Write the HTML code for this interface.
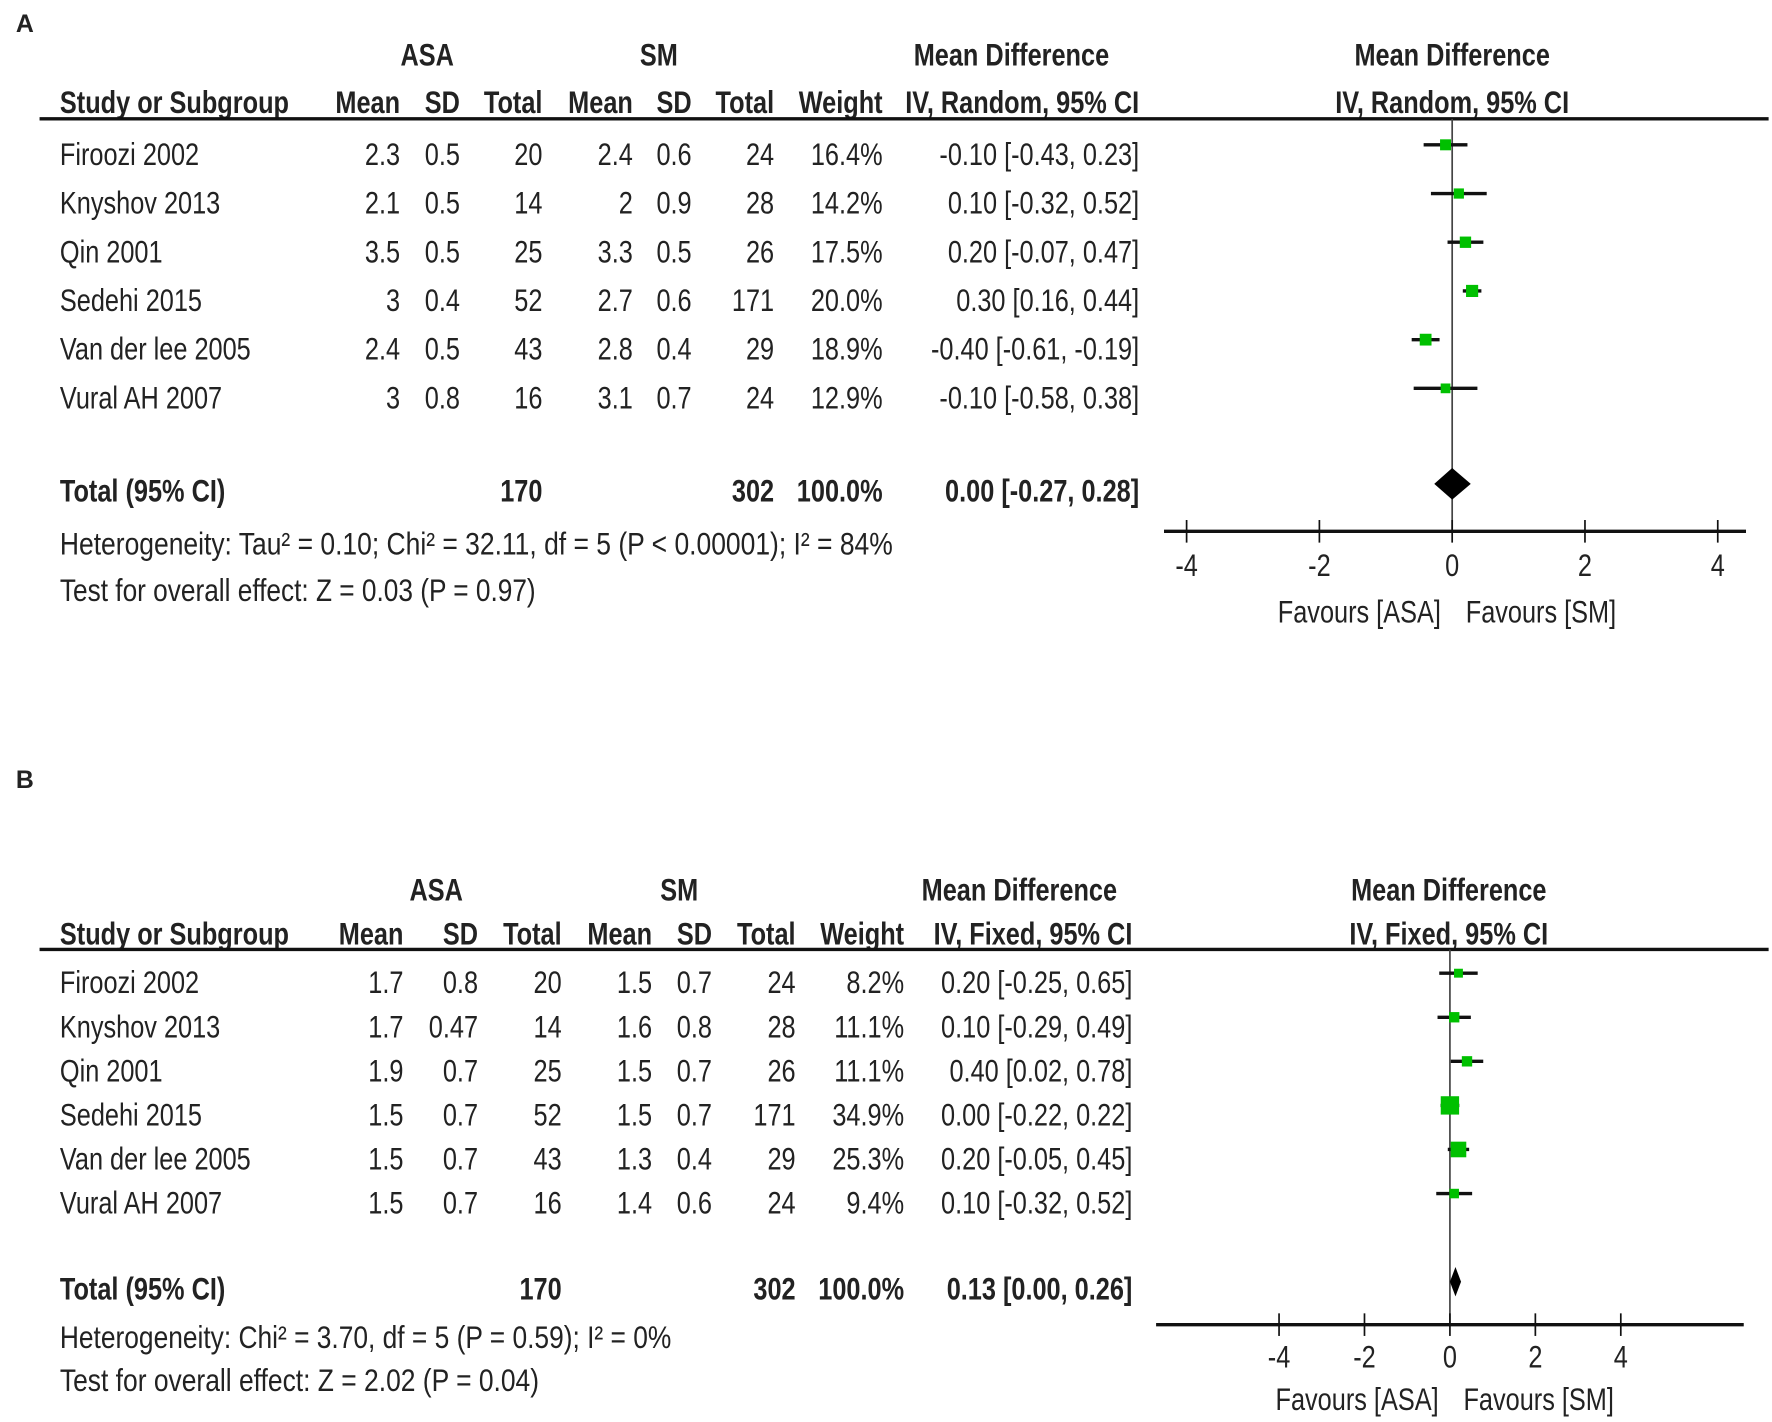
<!DOCTYPE html>
<html><head><meta charset="utf-8"><style>
html,body{margin:0;padding:0;background:#fff;}
svg{display:block;}
text{font-family:"Liberation Sans Narrow","Liberation Sans",sans-serif;font-size:28px;fill:#222;}
.b{font-weight:bold;}
</style></head><body>
<svg id="fig" width="1772" height="1422" viewBox="0 0 1568 1258" xmlns="http://www.w3.org/2000/svg">
<rect x="0" y="0" width="1568" height="1258" fill="#fff"/>
</svg>
<script>
// ---- Panel A data ----
const studiesA = ["Firoozi 2002","Knyshov 2013","Qin 2001","Sedehi 2015","Van der lee 2005","Vural AH 2007"];
const asaMeanA = ["2.3","2.1","3.5","3","2.4","3"];
const asaSdA = ["0.5","0.5","0.5","0.4","0.5","0.8"];
const asaNA = ["20","14","25","52","43","16"];
const smMeanA = ["2.4","2","3.3","2.7","2.8","3.1"];
const smSdA = ["0.6","0.9","0.5","0.6","0.4","0.7"];
const smNA = ["24","28","26","171","29","24"];
const weightA = [16.4,14.2,17.5,20.0,18.9,12.9];
const mdA = [-0.10,0.10,0.20,0.30,-0.40,-0.10];
const loA = [-0.43,-0.32,-0.07,0.16,-0.61,-0.58];
const hiA = [0.23,0.52,0.47,0.44,-0.19,0.38];
const totalA = [0.00,-0.27,0.28];
const ticksA = [-4,-2,0,2,4];
// ---- Panel B data ----
const studiesB = ["Firoozi 2002","Knyshov 2013","Qin 2001","Sedehi 2015","Van der lee 2005","Vural AH 2007"];
const asaMeanB = ["1.7","1.7","1.9","1.5","1.5","1.5"];
const asaSdB = ["0.8","0.47","0.7","0.7","0.7","0.7"];
const asaNB = ["20","14","25","52","43","16"];
const smMeanB = ["1.5","1.6","1.5","1.5","1.3","1.4"];
const smSdB = ["0.7","0.8","0.7","0.7","0.4","0.6"];
const smNB = ["24","28","26","171","29","24"];
const weightB = [8.2,11.1,11.1,34.9,25.3,9.4];
const mdB = [0.20,0.10,0.40,0.00,0.20,0.10];
const loB = [-0.25,-0.29,0.02,-0.22,-0.05,-0.32];
const hiB = [0.65,0.49,0.78,0.22,0.45,0.52];
const totalB = [0.13,0.00,0.26];
const ticksB = [-4,-2,0,2,4];

const NS="http://www.w3.org/2000/svg";
const svg=document.getElementById('fig');
const SQ=0.8;
function mk(tag,attrs,txt){const e=document.createElementNS(NS,tag);for(const k in attrs)e.setAttribute(k,attrs[k]);if(txt!==undefined)e.textContent=txt;svg.appendChild(e);return e;}
function T(x,y,s,anchor,bold,name,fixedW){const e=mk('text',{x:x,y:y,'text-anchor':anchor||'start','dominant-baseline':'central'},s);if(bold)e.setAttribute('class','b');


let w=fixedW;
if(!w){try{w=e.getComputedTextLength()*SQ;}catch(err){w=0;}}
if(w>0){e.setAttribute('textLength',w);e.setAttribute('lengthAdjust','spacingAndGlyphs');}
return e;}
function f2(v){return v.toFixed(2);}

function panel(P){
  const L=T(14,P.labelY,P.label,'start',true,'panel-label');
  L.style.fontFamily='"Liberation Sans",sans-serif';L.style.fontSize='22px';L.removeAttribute('textLength');
  T(P.cAsa,P.h1,'ASA','middle',true,'asa-group-header');
  T(P.cSm,P.h1,'SM','middle',true,'sm-group-header');
  T(P.cMd,P.h1,'Mean Difference','middle',true,'mean-difference-header');
  T(P.cPlot,P.h1,'Mean Difference','middle',true,'plot-header');
  T(53,P.h2,'Study or Subgroup','start',true,'study-column-header');
  const hd=['Mean','SD','Total','Mean','SD','Total','Weight',P.method];
  hd.forEach((h,i)=>T(P.cols[i],P.h2,h,'end',true,'column-header'));
  T(P.cPlot,P.h2,P.method,'middle',true,'plot-subheader');
  let ln=mk('line',{x1:35,x2:1565,y1:P.lineY,y2:P.lineY,stroke:'#111','stroke-width':3});
  
  
  const sx=v=>P.x0+v*P.ux;
  let z=mk('line',{x1:sx(0),x2:sx(0),y1:P.lineY,y2:P.axisY,stroke:'#444','stroke-width':1.5});
  
  
  P.studies.forEach((s,i)=>{
    const y=P.rowY0+i*P.dy;
    T(53,y,s,'start',false,'study-name');
    const vals=[P.am[i],P.asd[i],P.an[i],P.sm[i],P.ssd[i],P.sn[i],P.w[i].toFixed(1)+'%',f2(P.md[i])+' ['+f2(P.lo[i])+', '+f2(P.hi[i])+']'];
    vals.forEach((v,j)=>T(P.cols[j],y,v,'end',false,'cell-value'));
    const ci=mk('line',{x1:sx(P.lo[i]),x2:sx(P.hi[i]),y1:y-8,y2:y-8,stroke:'#111','stroke-width':3});
    
    
    const side=P.sq*Math.sqrt(P.w[i]);
    const r=mk('rect',{x:sx(P.md[i])-side/2,y:y-8-side/2,width:side,height:side,fill:'#00c000'});
    
    
  });
  const ty=P.totY;
  T(53,ty,'Total (95% CI)','start',true,'total-label');
  T(P.cols[2],ty,'170','end',true,'total-asa');
  T(P.cols[5],ty,'302','end',true,'total-sm');
  T(P.cols[6],ty,'100.0%','end',true,'total-weight');
  T(P.cols[7],ty,f2(P.tot[0])+' ['+f2(P.tot[1])+', '+f2(P.tot[2])+']','end',true,'total-effect');
  const dy=ty-6;
  const d=mk('polygon',{points:`${sx(P.tot[1])},${dy} ${sx(P.tot[0])},${dy-P.dh} ${sx(P.tot[2])},${dy} ${sx(P.tot[0])},${dy+P.dh}`,fill:'#000'});
  
  
  T(53,P.hetY,P.het,'start',false,'heterogeneity-text',P.hetW);
  T(53,P.testY,P.test,'start',false,'overall-effect-text',P.testW);
  const ax=mk('line',{x1:P.axL,x2:P.axR,y1:P.axisY,y2:P.axisY,stroke:'#111','stroke-width':3});
  
  
  P.ticks.forEach(t=>{
    const tk=mk('line',{x1:sx(t),x2:sx(t),y1:P.axisY-10,y2:P.axisY+10,stroke:'#111','stroke-width':1.5});
    
    
    T(sx(t),P.tickY,String(t),'middle',false,'x-tick-label');
  });
  T(sx(0)-10,P.favY,'Favours [ASA]','end',false,'favours-asa-label');
  T(sx(0)+12,P.favY,'Favours [SM]','start',false,'favours-sm-label');
}

panel({label:'A',labelY:21,h1:48,h2:90,lineY:105,cAsa:378,cSm:583,cMd:895,cPlot:1285,
  cols:[354,407,480,560,612,685,781,1008],method:'IV, Random, 95% CI',
  studies:studiesA,am:asaMeanA,asd:asaSdA,an:asaNA,sm:smMeanA,ssd:smSdA,sn:smNA,w:weightA,md:mdA,lo:loA,hi:hiA,tot:totalA,ticks:ticksA,
  rowY0:136,dy:43.1,totY:434,x0:1285,ux:58.75,sq:2.4,dh:14,
  het:'Heterogeneity: Tau² = 0.10; Chi² = 32.11, df = 5 (P < 0.00001); I² = 84%',hetW:737,hetY:481,
  test:'Test for overall effect: Z = 0.03 (P = 0.97)',testW:421,testY:522,
  axisY:470,axL:1030,axR:1545,tickY:500,favY:541});
panel({label:'B',labelY:690,h1:787,h2:826,lineY:840,cAsa:386,cSm:601,cMd:902,cPlot:1282,
  cols:[357,423,497,577,630,704,800,1002],method:'IV, Fixed, 95% CI',
  studies:studiesB,am:asaMeanB,asd:asaSdB,an:asaNB,sm:smMeanB,ssd:smSdB,sn:smNB,w:weightB,md:mdB,lo:loB,hi:hiB,tot:totalB,ticks:ticksB,
  rowY0:869,dy:39,totY:1140,x0:1283,ux:37.8,sq:2.75,dh:13,
  het:'Heterogeneity: Chi² = 3.70, df = 5 (P = 0.59); I² = 0%',hetW:541,hetY:1183,
  test:'Test for overall effect: Z = 2.02 (P = 0.04)',testW:424,testY:1221,
  axisY:1172,axL:1023,axR:1543,tickY:1200,favY:1238});
</script>
</body></html>
